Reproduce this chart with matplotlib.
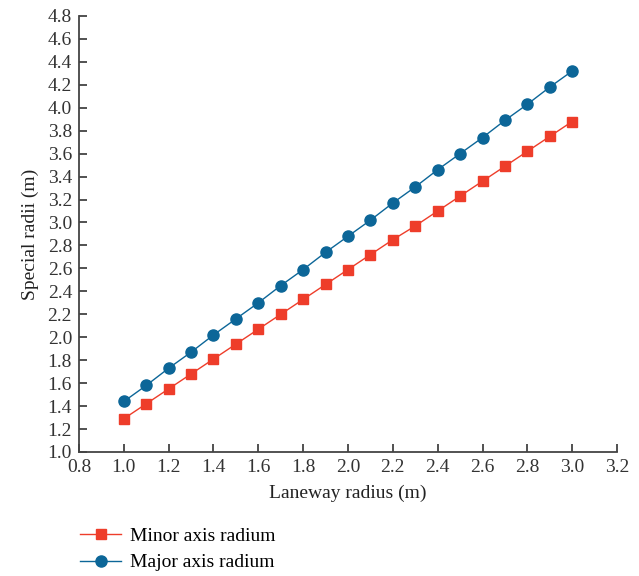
import matplotlib.pyplot as plt

plt.rcParams['font.family'] = ['Liberation Serif', 'DejaVu Serif']

laneway = [1.0, 1.1, 1.2, 1.3, 1.4, 1.5, 1.6, 1.7, 1.8, 1.9, 2.0,
           2.1, 2.2, 2.3, 2.4, 2.5, 2.6, 2.7, 2.8, 2.9, 3.0]
minor = [1.29, 1.42, 1.55, 1.68, 1.81, 1.94, 2.07, 2.20, 2.33, 2.46, 2.59,
         2.72, 2.85, 2.97, 3.10, 3.23, 3.36, 3.49, 3.62, 3.75, 3.88]
major = [1.44, 1.58, 1.73, 1.87, 2.02, 2.16, 2.30, 2.45, 2.59, 2.74, 2.88,
         3.02, 3.17, 3.31, 3.46, 3.60, 3.74, 3.89, 4.03, 4.18, 4.32]

red = '#ee3d2a'
blue = '#0c6698'

fig = plt.figure(figsize=(6.39, 5.76), dpi=100)
ax = fig.add_axes([0.1236, 0.2153, 0.842, 0.757])

ax.plot(laneway, minor, color=red, marker='s', markersize=7, lw=1, label='Minor axis radium')
ax.plot(laneway, major, color=blue, marker='o', markersize=8, lw=1, label='Major axis radium')

ax.set_xlim(0.8, 3.2)
ax.set_ylim(1.0, 4.8)
ax.set_xticks([0.8 + 0.2 * i for i in range(13)])
ax.set_yticks([1.0 + 0.2 * i for i in range(20)])
ax.xaxis.set_major_formatter(plt.FormatStrFormatter('%.1f'))
ax.yaxis.set_major_formatter(plt.FormatStrFormatter('%.1f'))
ax.tick_params(direction='in', length=6, width=1.2, labelsize=14, colors='#333333', pad=5)
ax.spines['top'].set_visible(False)
ax.spines['right'].set_visible(False)
for s in ['left', 'bottom']:
    ax.spines[s].set_linewidth(1.3)
    ax.spines[s].set_color('#444444')

ax.set_xlabel('Laneway radius (m)', fontsize=14, color='#222222', labelpad=6)
ax.set_ylabel('Special radii (m)', fontsize=14, color='#222222', labelpad=6)

ax.legend(loc='upper left', bbox_to_anchor=(-0.012, -0.155), frameon=False, fontsize=14,
          handlelength=2.1, handletextpad=0.45, labelspacing=0.45, borderaxespad=0)

fig.savefig('out.png', dpi=100)
